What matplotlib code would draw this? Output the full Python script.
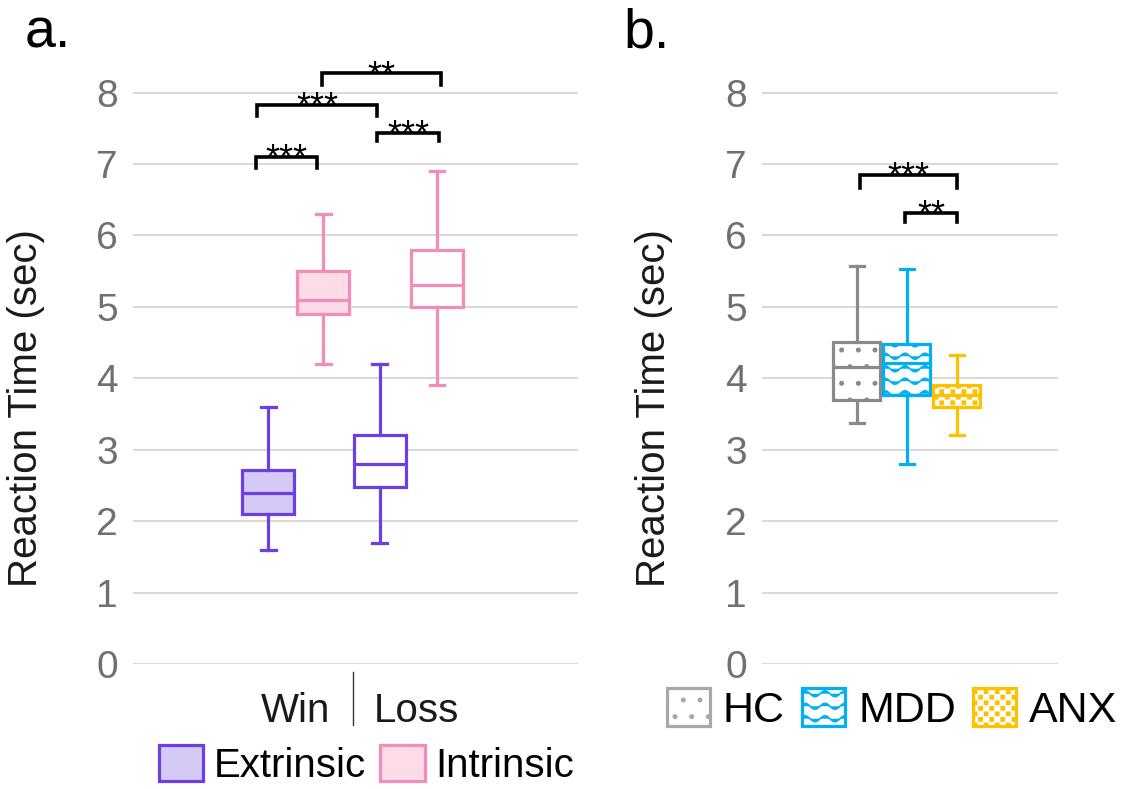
import warnings
import numpy as np
import matplotlib
matplotlib.use('Agg')
import matplotlib.pyplot as plt
import matplotlib.hatch as mhatch
from matplotlib.path import Path
from matplotlib.patches import Patch

warnings.filterwarnings('ignore')

# ---- data ----
# panel a: box stats (low whisker, q1, median, q3, high whisker)
a_labels = ['Win Extrinsic', 'Win Intrinsic', 'Loss Extrinsic', 'Loss Intrinsic']
a_whislo = [1.60, 4.20, 1.70, 3.90]
a_q1 = [2.10, 4.90, 2.48, 5.00]
a_med = [2.40, 5.10, 2.80, 5.30]
a_q3 = [2.71, 5.50, 3.20, 5.80]
a_whishi = [3.60, 6.30, 4.20, 6.90]

# panel b
b_labels = ['HC', 'MDD', 'ANX']
b_whislo = [3.38, 2.80, 3.21]
b_q1 = [3.69, 3.77, 3.60]
b_med = [4.16, 4.21, 3.76]
b_q3 = [4.51, 4.48, 3.91]
b_whishi = [5.57, 5.53, 4.32]

# significance brackets: (x1, x2, y, leg length, label)
a_sig = [(2.18, 3.27, 7.10, 0.16, '***'), (4.34, 5.44, 7.44, 0.12, '***'),
         (2.21, 4.33, 7.83, 0.16, '***'), (3.35, 5.46, 8.27, 0.17, '**')]
b_sig = [(1.06, 3.00, 6.85, 0.18, '***'), (1.96, 3.00, 6.32, 0.13, '**')]

yticks = [0, 1, 2, 3, 4, 5, 6, 7, 8]

PURPLE = '#6B3FE3'
PURPLE_L = '#D5C9F6'
PINK = '#F48DB6'
PINK_L = '#FDDCE8'
GREY = '#8A8A8A'
CYAN = '#00B0F0'
GOLD = '#FFC000'


# custom hatches: '~' wavy lines, '#' checkerboard
class WaveHatch(mhatch.HatchPatternBase):
    def __init__(self, hatch, density):
        self.num_lines = hatch.count('~') * 8
        self.npts = 61
        self.num_vertices = self.num_lines * self.npts

    def set_vertices_and_codes(self, vertices, codes):
        x = np.linspace(0, 1, self.npts)
        for i in range(self.num_lines):
            s = slice(i * self.npts, (i + 1) * self.npts)
            vertices[s, 0] = x
            vertices[s, 1] = (i + 0.5) / self.num_lines + 0.03 * np.sin(2 * np.pi * 5 * x)
            codes[s] = Path.LINETO
            codes[i * self.npts] = Path.MOVETO


class CheckerHatch(mhatch.HatchPatternBase):
    def __init__(self, hatch, density):
        self.n = hatch.count('#') * 18
        self.cells = [(i, j) for i in range(self.n) for j in range(self.n) if (i + j) % 2 == 0]
        self.num_vertices = len(self.cells) * 5

    def set_vertices_and_codes(self, vertices, codes):
        s = 1.0 / self.n
        d = 0.22 * s  # inset to make room for the stroke
        for k, (i, j) in enumerate(self.cells):
            x, y = i * s + d, j * s + d
            w = s - 2 * d
            vertices[k * 5:(k + 1) * 5] = [(x, y), (x + w, y), (x + w, y + w), (x, y + w), (x, y)]
            codes[k * 5:(k + 1) * 5] = [Path.MOVETO, Path.LINETO, Path.LINETO,
                                        Path.LINETO, Path.CLOSEPOLY]


mhatch._hatch_types.extend([WaveHatch, CheckerHatch])

plt.rcParams['font.family'] = ['Liberation Sans', 'DejaVu Sans']
plt.rcParams['hatch.linewidth'] = 1.2

fig = plt.figure(figsize=(11.28, 7.89), dpi=100)
ax_a = fig.add_axes([0.1179, 0.1584, 0.3945, 0.7605])
ax_b = fig.add_axes([0.6755, 0.1584, 0.2624, 0.7605])


def stats(labels, lo, q1, med, q3, hi):
    return [dict(label=l, whislo=a, q1=b, med=c, q3=d, whishi=e, fliers=[])
            for l, a, b, c, d, e in zip(labels, lo, q1, med, q3, hi)]


def style_axes(ax):
    ax.set_ylim(0, 8.4)
    ax.set_yticks(yticks)
    ax.tick_params(axis='y', length=0, pad=11, labelsize=28, labelcolor='#707070')
    ax.grid(axis='y', color='#D9D9D9', lw=1.5)
    ax.set_axisbelow(True)
    for sp in ax.spines.values():
        sp.set_visible(False)
    ax.set_ylabel('Reaction Time (sec)', fontsize=29, color='#1A1A1A')


def draw_sig(ax, sig):
    for x1, x2, y, leg, lab in sig:
        ax.plot([x1, x1, x2, x2], [y - leg, y, y, y - leg], color='black', lw=2.6,
                clip_on=False, solid_joinstyle='miter')
        ax.annotate(lab, ((x1 + x2) / 2, y), xytext=(0, -9.5), textcoords='offset points',
                    ha='center', va='baseline', fontsize=26, annotation_clip=False)


# ---- panel a ----
a_pos = [2.40, 3.38, 4.38, 5.40]
a_edge = [PURPLE, PINK, PURPLE, PINK]
a_face = [PURPLE_L, PINK_L, 'white', 'white']
bp = ax_a.bxp(stats(a_labels, a_whislo, a_q1, a_med, a_q3, a_whishi), positions=a_pos,
              widths=0.92, capwidths=0.26, patch_artist=True, showfliers=False)
for i in range(4):
    bp['boxes'][i].set(facecolor=a_face[i], edgecolor=a_edge[i], lw=2.3)
    bp['medians'][i].set(color=a_edge[i], lw=2.3)
    for k in (2 * i, 2 * i + 1):
        bp['whiskers'][k].set(color=a_edge[i], lw=2.3)
        bp['caps'][k].set(color=a_edge[i], lw=2.3)
style_axes(ax_a)
ax_a.set_xlim(0, 7.9)
ax_a.set_xticks([2.88, 5.03], ['Win', 'Loss'])
ax_a.tick_params(axis='x', length=0, pad=20, labelsize=29, labelcolor='#1A1A1A')
ax_a.plot([3.91, 3.91], [-0.11, -0.85], color='#333333', lw=1, clip_on=False)
ax_a.yaxis.set_label_coords(-0.198, 0.427)
draw_sig(ax_a, a_sig)
ax_a.legend(handles=[Patch(facecolor=PURPLE_L, edgecolor=PURPLE, lw=2.3, label='Extrinsic'),
                     Patch(facecolor=PINK_L, edgecolor=PINK, lw=2.3, label='Intrinsic')],
            loc='center', bbox_to_anchor=(0.525, -0.168), ncol=2, frameon=False, fontsize=29,
            handlelength=1.1, handleheight=1.0, handletextpad=0.27, columnspacing=0.35,
            borderaxespad=0, borderpad=0)

# ---- panel b ----
b_pos = [1, 2, 3]
b_edge = [GREY, CYAN, GOLD]
b_hatch = ['.', '~', '#']
bp = ax_b.bxp(stats(b_labels, b_whislo, b_q1, b_med, b_q3, b_whishi), positions=b_pos,
              widths=0.94, capwidths=0.28, patch_artist=True, showfliers=False)
for i in range(3):
    bp['boxes'][i].set(facecolor='white', edgecolor=b_edge[i], lw=2.3, hatch=b_hatch[i])
    bp['medians'][i].set(color=b_edge[i], lw=2.3)
    for k in (2 * i, 2 * i + 1):
        bp['whiskers'][k].set(color=b_edge[i], lw=2.3)
        bp['caps'][k].set(color=b_edge[i], lw=2.3)
style_axes(ax_b)
ax_b.set_xlim(-0.9, 5.02)
ax_b.set_xticks([])
ax_b.yaxis.set_label_coords(-0.30, 0.427)
draw_sig(ax_b, b_sig)
ax_b.legend(handles=[Patch(facecolor='white', edgecolor='#A8A8A8', lw=2.3, hatch='.', label='HC'),
                     Patch(facecolor='white', edgecolor=CYAN, lw=2.3, hatch='~', label='MDD'),
                     Patch(facecolor='white', edgecolor=GOLD, lw=2.3, hatch='#', label='ANX')],
            loc='center', bbox_to_anchor=(0.44, -0.075), ncol=3, frameon=False, fontsize=31,
            handlelength=1.0, handleheight=1.0, handletextpad=0.3, columnspacing=0.4,
            borderaxespad=0, borderpad=0)

fig.text(0.022, 0.94, 'a.', fontsize=40)
fig.text(0.553, 0.94, 'b.', fontsize=40)

fig.savefig('out.png', dpi=100)
